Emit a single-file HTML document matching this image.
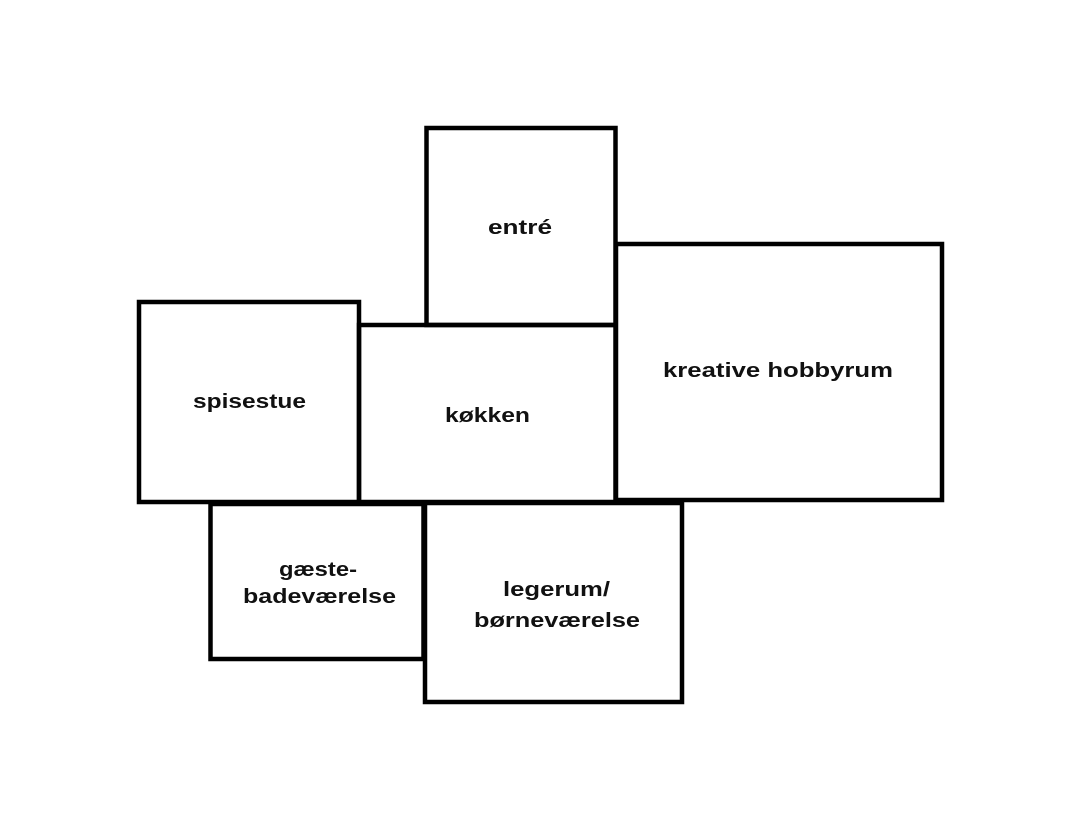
<!DOCTYPE html>
<html><head><meta charset="utf-8"><style>
html,body{margin:0;padding:0;background:#fff;}
svg{display:block;}
text{font-family:"Liberation Sans",sans-serif;font-weight:bold;font-size:20px;fill:#111;}
</style></head><body>
<svg width="1080" height="830" viewBox="0 0 1080 830" xmlns="http://www.w3.org/2000/svg">
<g fill="none" stroke="#000" stroke-width="4.5">
<rect x="426.5" y="128" width="189" height="197"/>
<rect x="139" y="302" width="220" height="200"/>
<rect x="359" y="325" width="256.5" height="177"/>
<rect x="616" y="244" width="326" height="256"/>
<rect x="210.5" y="504" width="213" height="155"/>
<rect x="425" y="503" width="257" height="199"/>
</g>
<text x="488" y="234" textLength="64" lengthAdjust="spacingAndGlyphs">entré</text>
<text x="193" y="408" textLength="113" lengthAdjust="spacingAndGlyphs">spisestue</text>
<text x="445" y="422" textLength="85" lengthAdjust="spacingAndGlyphs">køkken</text>
<text x="663" y="377" textLength="230" lengthAdjust="spacingAndGlyphs">kreative hobbyrum</text>
<text x="279" y="576" textLength="78" lengthAdjust="spacingAndGlyphs">gæste-</text>
<text x="243" y="603" textLength="153" lengthAdjust="spacingAndGlyphs">badeværelse</text>
<text x="503" y="596" textLength="107" lengthAdjust="spacingAndGlyphs">legerum/</text>
<text x="474" y="627" textLength="166" lengthAdjust="spacingAndGlyphs">børneværelse</text>
</svg>
</body></html>
